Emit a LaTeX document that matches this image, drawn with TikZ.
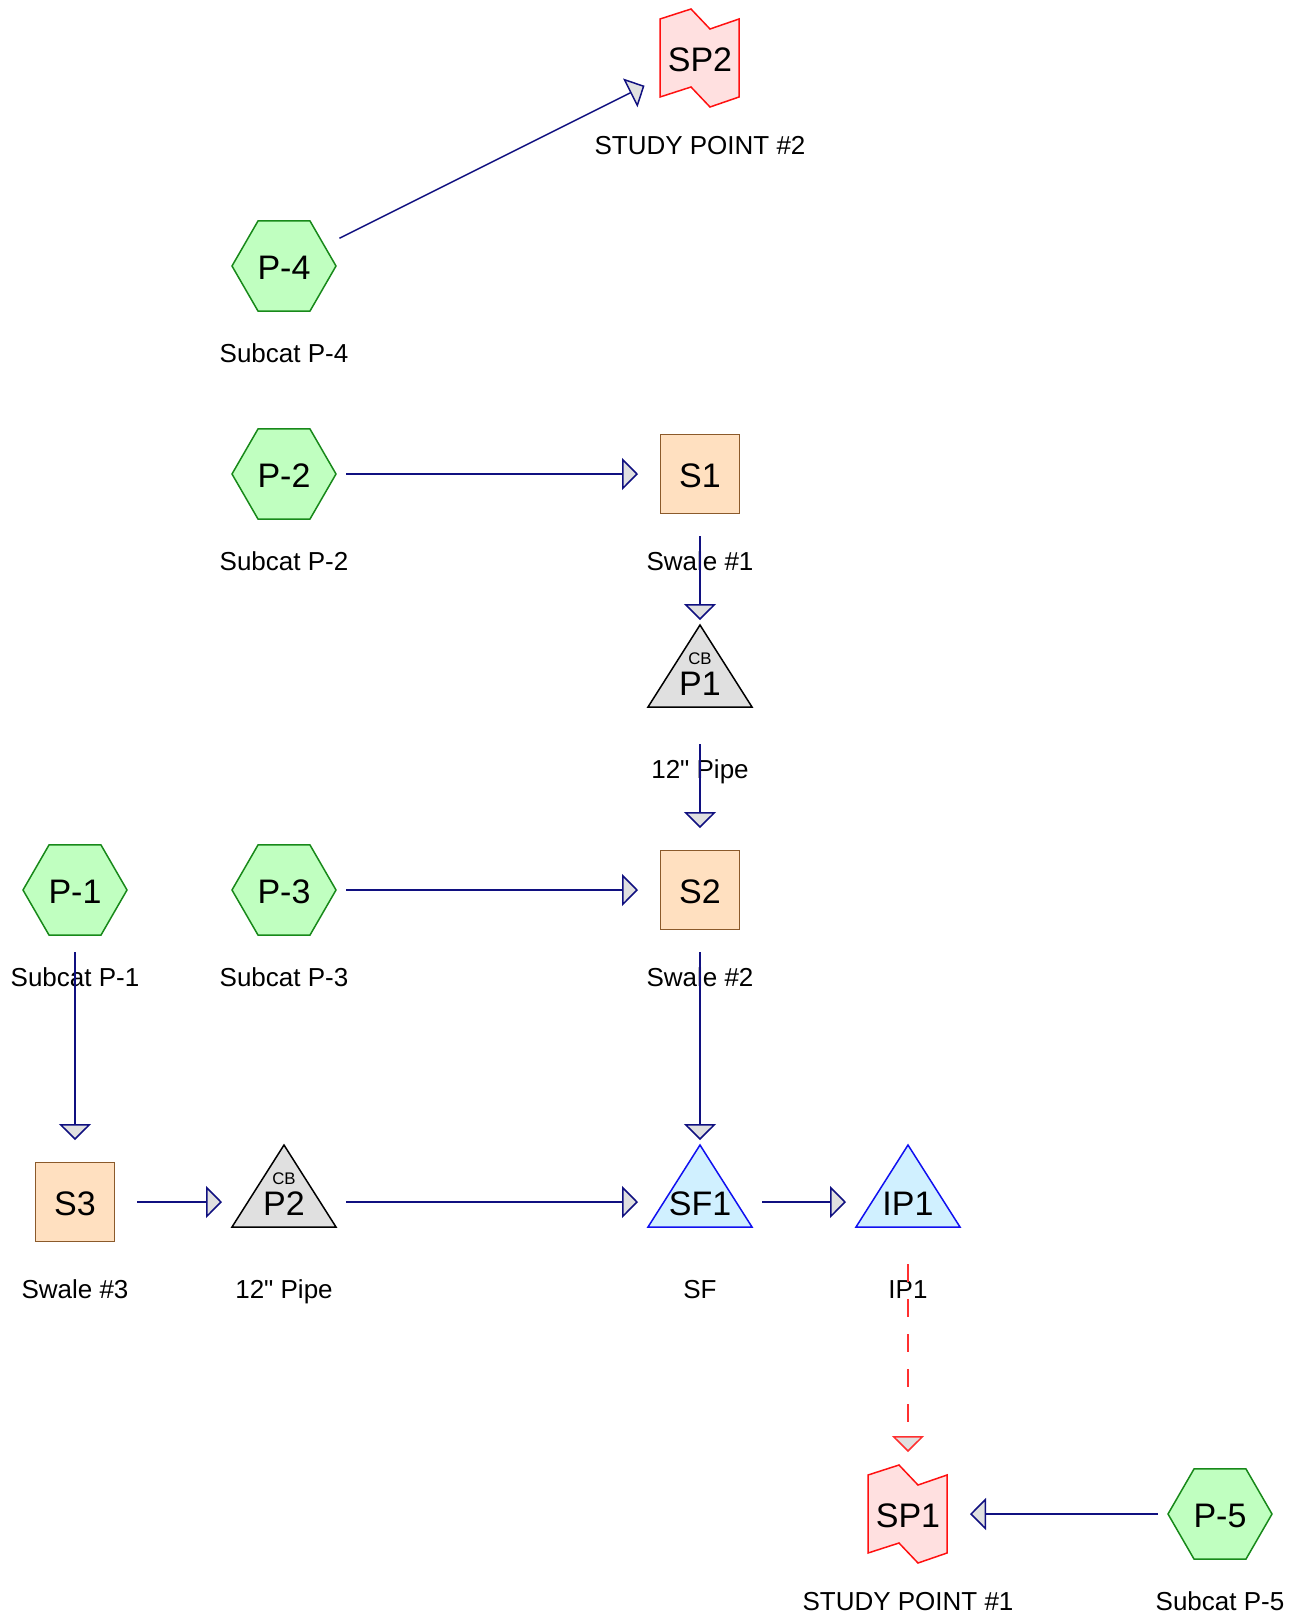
\documentclass[tikz,border=0pt]{standalone}
\usepackage{fontspec}
\setmainfont{Liberation Sans}
\usepackage{tikz}
\usetikzlibrary{arrows.meta,shapes.geometric,calc}
\definecolor{subgreen}{HTML}{C0FFC0}
\definecolor{subedge}{HTML}{18891A}
\definecolor{reachfill}{HTML}{FFE0C0}
\definecolor{reachedge}{HTML}{8B5A2B}
\definecolor{cbgrey}{HTML}{E0E0E0}
\definecolor{pondfill}{HTML}{D0F0FF}
\definecolor{pondedge}{HTML}{1010F0}
\definecolor{linkblue}{HTML}{101080}
\definecolor{spfill}{HTML}{FFE0E0}
\definecolor{spedge}{HTML}{FF1010}
\definecolor{dashred}{HTML}{FF3030}

\begin{document}
\begin{tikzpicture}[x=1pt,y=-1pt,
  ptext/.style={inner sep=0pt,font=\fontsize{34}{36}\selectfont,text height=27.5pt,text depth=0pt},
  subcat/.style={ptext,regular polygon,regular polygon sides=6,minimum size=104pt,
                 fill=subgreen,draw=subedge,line width=1.5pt},
  reach/.style={ptext,rectangle,minimum size=79pt,fill=reachfill,draw=reachedge,line width=1.5pt},
  cbtext/.style={inner sep=0pt,font=\fontsize{16.8}{18}\selectfont},
  lbl/.style={inner sep=0pt,font=\fontsize{26}{30}\selectfont,text height=18.7pt,text depth=0pt},
  flow/.style={draw=linkblue,line width=1.5pt,-{Triangle[length=16pt,width=32pt,fill=cbgrey]}},
  overflow/.style={draw=dashred,line width=1.5pt,dash pattern=on 18pt off 17pt,
                   -{Triangle[length=16pt,width=32pt,fill=cbgrey]}},
  studypt/.pic={\draw[fill=spfill,draw=spedge,line width=1.5pt]
      (-40,-39) -- (-9,-49) -- (10,-29) -- (39,-39) -- (39,39) -- (10,49) -- (-9,29) -- (-40,39) -- cycle;},
  cbpipe/.pic={\draw[fill=cbgrey,draw=black,line width=1.5pt] (-52,25) -- (0,-57) -- (52,25) -- cycle;},
  pondtri/.pic={\draw[fill=pondfill,draw=pondedge,line width=1.5pt] (-52,25) -- (0,-57) -- (52,25) -- cycle;}]
  \useasboundingbox (0,0) rectangle (1293,1618);

  % Study points
  \pic at (700,58) {studypt};
  \node[ptext] (sp2) at (700,58) {SP2};
  \node[lbl] (sp2lbl) at (700,145) {STUDY POINT \#2};
  \pic at (908,1514) {studypt};
  \node[ptext] (sp1) at (908,1514) {SP1};
  \node[lbl] (sp1lbl) at (908,1601) {STUDY POINT \#1};

  % Subcatchments
  \node[subcat] (p4) at (284,266) {P-4};
  \node[lbl] (p4lbl) at (284,353) {Subcat P-4};
  \node[subcat] (p2) at (284,474) {P-2};
  \node[lbl] (p2lbl) at (284,561) {Subcat P-2};
  \node[subcat] (p1) at (75,890) {P-1};
  \node[lbl] (p1lbl) at (75,977) {Subcat P-1};
  \node[subcat] (p3) at (284,890) {P-3};
  \node[lbl] (p3lbl) at (284,977) {Subcat P-3};
  \node[subcat] (p5) at (1220,1514) {P-5};
  \node[lbl] (p5lbl) at (1220,1601) {Subcat P-5};

  % Swales
  \node[reach] (s1) at (700,474) {S1};
  \node[lbl] (s1lbl) at (700,561) {Swale \#1};
  \node[reach] (s2) at (700,890) {S2};
  \node[lbl] (s2lbl) at (700,977) {Swale \#2};
  \node[reach] (s3) at (75,1202) {S3};
  \node[lbl] (s3lbl) at (75,1289) {Swale \#3};

  % Catch basins
  \pic at (700,682) {cbpipe};
  \node[ptext] (cbp1) at (700,682) {P1};
  \node[cbtext] (cbp1tag) at (700,659) {CB};
  \node[lbl] (cbp1lbl) at (700,769) {12\textquotedbl{} Pipe};
  \pic at (284,1202) {cbpipe};
  \node[ptext] (cbp2) at (284,1202) {P2};
  \node[cbtext] (cbp2tag) at (284,1179) {CB};
  \node[lbl] (cbp2lbl) at (284,1289) {12\textquotedbl{} Pipe};

  % Ponds
  \pic at (700,1202) {pondtri};
  \node[ptext] (sf1) at (700,1202) {SF1};
  \node[lbl] (sf1lbl) at (700,1289) {SF};
  \pic at (908,1202) {pondtri};
  \node[ptext] (ip1) at (908,1202) {IP1};
  \node[lbl] (ip1lbl) at (908,1289) {IP1};

  % Links
  \draw[flow] ($(p4)!62pt!(sp2)$) -- ($(sp2)!62pt!(p4)$);
  \draw[flow] ($(p2)!62pt!(s1)$) -- ($(s1)!62pt!(p2)$);
  \draw[flow] ($(s1)!62pt!(cbp1)$) -- ($(cbp1)!62pt!(s1)$);
  \draw[flow] ($(cbp1)!62pt!(s2)$) -- ($(s2)!62pt!(cbp1)$);
  \draw[flow] ($(p3)!62pt!(s2)$) -- ($(s2)!62pt!(p3)$);
  \draw[flow] ($(s2)!62pt!(sf1)$) -- ($(sf1)!62pt!(s2)$);
  \draw[flow] ($(p1)!62pt!(s3)$) -- ($(s3)!62pt!(p1)$);
  \draw[flow] ($(s3)!62pt!(cbp2)$) -- ($(cbp2)!62pt!(s3)$);
  \draw[flow] ($(cbp2)!62pt!(sf1)$) -- ($(sf1)!62pt!(cbp2)$);
  \draw[flow] ($(sf1)!62pt!(ip1)$) -- ($(ip1)!62pt!(sf1)$);
  \draw[flow] ($(p5)!62pt!(sp1)$) -- ($(sp1)!62pt!(p5)$);

  % Overflow
  \draw[overflow] ($(ip1)!62pt!(sp1)$) -- ($(sp1)!62pt!(ip1)$);
\end{tikzpicture}
\end{document}
